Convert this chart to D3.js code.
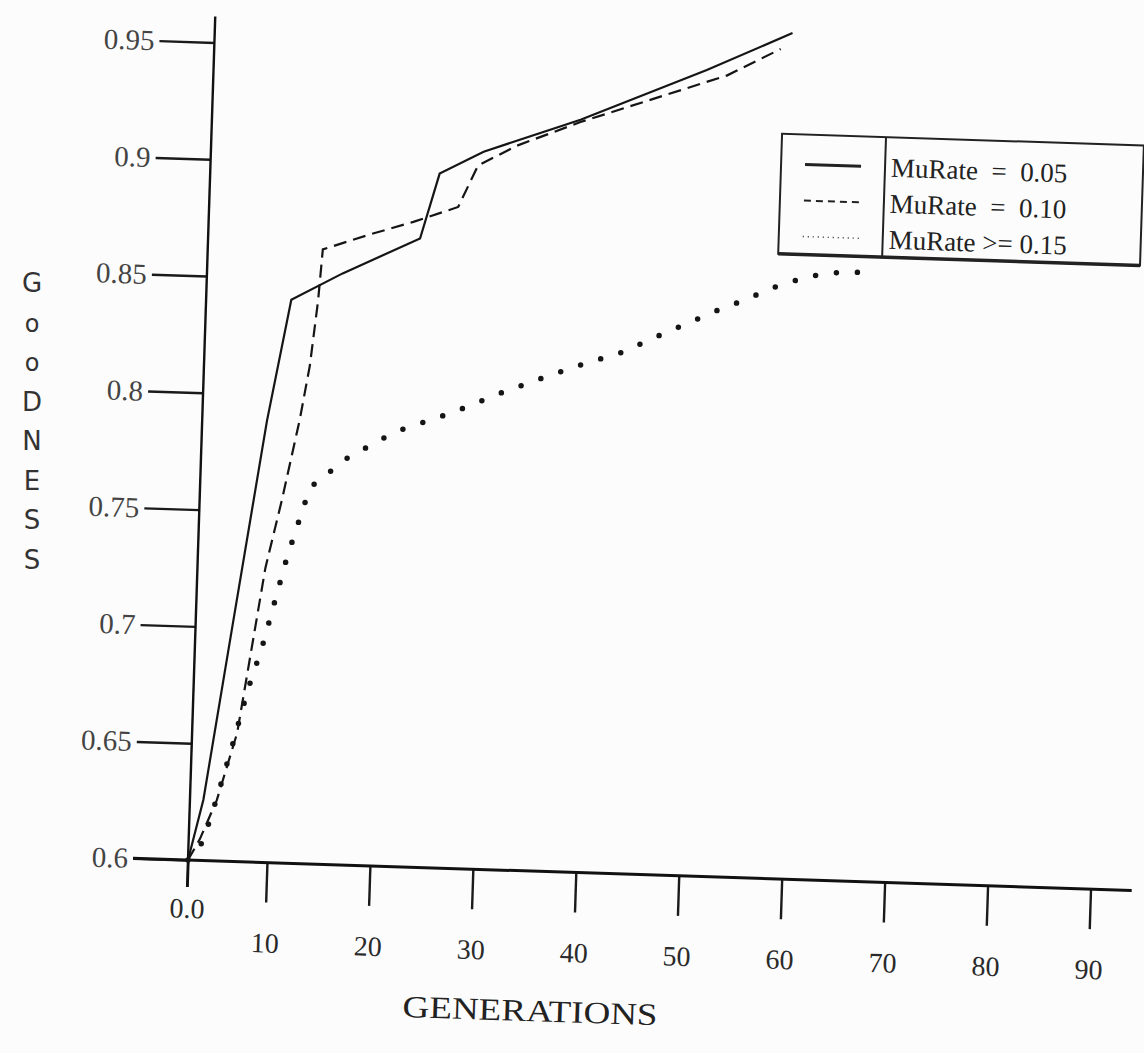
<!DOCTYPE html>
<html>
<head>
<meta charset="utf-8">
<script src="https://cdn.jsdelivr.net/npm/d3@7"></script>
<style>
  body { margin: 0; background: #fcfcfc; }
  svg { display: block; }
  .tick text { font-family: "Liberation Serif", serif; }
  .tick line { stroke: #1a1a1a; stroke-width: 2.4; }
</style>
</head>
<body>
<div id="chart-area"></div>
<script>
// values
const solidGen  = [0, 1.7, 4.6, 8.2, 10.6, 15.5, 22.9, 24.6, 28.8, 38.1, 50.2, 58.4]
const solidGood = [0.6, 0.626, 0.699, 0.789, 0.841, 0.853, 0.869, 0.897, 0.907, 0.922, 0.945, 0.962]

const dashGen  = [0, 1.4, 3.4, 5.7, 8.6, 10.3, 11.8, 12.6, 13.2, 13.5, 18.0, 22.2, 26.5, 28.3, 32.0, 38.1, 52.2, 57.3]
const dashGood = [0.6, 0.609, 0.626, 0.655, 0.726, 0.755, 0.790, 0.813, 0.841, 0.863, 0.870, 0.876, 0.883, 0.901, 0.910, 0.921, 0.943, 0.955]

const dotGen  = [0, 1.8, 3.4, 5.1, 6.9, 8.5, 11.0, 13.0, 16.5, 21.1, 26.6, 31.2, 35.2, 38.8, 42.8, 46.5, 51.8, 54.5, 57.4, 60.6, 63.0, 67.3]
const dotGood = [0.6, 0.608, 0.627, 0.649, 0.674, 0.692, 0.731, 0.761, 0.774, 0.786, 0.795, 0.804, 0.811, 0.817, 0.823, 0.831, 0.842, 0.847, 0.853, 0.858, 0.860, 0.861]

const seriesNames = ['MuRate  =  0.05', 'MuRate  =  0.10', 'MuRate >= 0.15']

const xTicks = [0, 10, 20, 30, 40, 50, 60, 70, 80, 90]
const xTickLabels = ['0.0', '10', '20', '30', '40', '50', '60', '70', '80', '90']
const yTicks = [0.6, 0.65, 0.7, 0.75, 0.8, 0.85, 0.9, 0.95]
const yTickLabels = ['0.6', '0.65', '0.7', '0.75', '0.8', '0.85', '0.9', '0.95']
const yTitle = ['G', 'o', 'o', 'D', 'N', 'E', 'S', 'S']

const W = 1144, H = 1053
const ORIGIN = {X: 188, Y: 860}
const TILT = 1.85   // the scan is slightly turned
const PLOT_W = 903, PLOT_H = 818

const svg = d3.select('#chart-area')
  .append('svg')
  .attr('width', W)
  .attr('height', H)

svg.append('rect').attr('width', W).attr('height', H).attr('fill', '#fcfcfc')

const g = svg.append('g')
  .attr('transform', `translate(${ORIGIN.X},${ORIGIN.Y}) rotate(${TILT})`)

// hand drawn axis: the first division is shorter than the others
const x = d3.scaleLinear()
  .domain([0, 10, 90])
  .range([0, 79, PLOT_W])

const y = d3.scaleLinear()
  .domain([0.6, 0.95])
  .range([0, -PLOT_H])

// y axis
const yAxisCall = d3.axisLeft(y)
  .tickValues(yTicks)
  .tickSize(55)
  .tickPadding(5)
  .tickFormat((d, i) => yTickLabels[i])

const yAxis = g.append('g')
  .attr('class', 'y axis')
  .call(yAxisCall)
yAxis.select('.domain').remove()
yAxis.selectAll('text').attr('font-size', 29).attr('fill', '#444')

// x axis
const xAxisCall = d3.axisBottom(x)
  .tickValues(xTicks)
  .tickSize(40)
  .tickPadding(30)
  .tickFormat((d, i) => xTickLabels[i])

const xAxis = g.append('g')
  .attr('class', 'x axis')
  .call(xAxisCall)
xAxis.select('.domain').remove()
xAxis.selectAll('text').attr('font-size', 28).attr('fill', '#2a2a2a')
xAxis.selectAll('.tick').filter(d => d === 0).select('line').attr('y2', 27)
xAxis.selectAll('.tick').filter(d => d === 0).select('text').attr('y', 38)

// axis lines
g.append('line')
  .attr('x1', -55).attr('x2', x(94))
  .attr('y1', y(0.6)).attr('y2', y(0.6))
  .attr('stroke', '#111').attr('stroke-width', 3)

g.append('line')
  .attr('x1', 0).attr('x2', 0)
  .attr('y1', y(0.6) + 27).attr('y2', y(0.95) - 26)
  .attr('stroke', '#111').attr('stroke-width', 2.4)

// axis titles
g.append('text')
  .attr('x', x(36))
  .attr('y', 150)
  .attr('text-anchor', 'middle')
  .attr('font-family', '"Liberation Serif", serif')
  .attr('font-size', 31)
  .attr('fill', '#222')
  .attr('textLength', 255)
  .attr('lengthAdjust', 'spacingAndGlyphs')
  .text('GENERATIONS')

svg.append('g')
  .selectAll('text')
  .data(yTitle)
  .enter().append('text')
  .attr('x', 32)
  .attr('y', (d, i) => 292 + i * 39.5)
  .attr('text-anchor', 'middle')
  .attr('font-family', '"DejaVu Sans", sans-serif')
  .attr('font-size', d => d === 'o' ? 24 : 26)
  .attr('fill', '#333')
  .text(d => d)

// lines
const line = d3.line()
  .x(d => x(d[0]))
  .y(d => y(d[1]))

const series = [
  {gen: solidGen, good: solidGood, dash: null, width: 2.2, cap: 'butt'},
  {gen: dashGen, good: dashGood, dash: '13 7', width: 2.2, cap: 'butt'},
  {gen: dotGen, good: dotGood, dash: '0 21', width: 5.5, cap: 'round'}
]

series.forEach(s => {
  g.append('path')
    .datum(d3.zip(s.gen, s.good))
    .attr('d', line)
    .attr('fill', 'none')
    .attr('stroke', '#151515')
    .attr('stroke-width', s.width)
    .attr('stroke-linecap', s.cap)
    .attr('stroke-dasharray', s.dash)
})

// legend
const legend = g.append('g')
  .attr('transform', `translate(${x(57.7)},${y(0.6) - 745})`)

legend.append('rect')
  .attr('width', 362).attr('height', 120)
  .attr('fill', 'none')
  .attr('stroke', '#222').attr('stroke-width', 2)
legend.append('line')
  .attr('x1', 0).attr('x2', 362).attr('y1', 120).attr('y2', 120)
  .attr('stroke', '#222').attr('stroke-width', 3.5)
legend.append('line')
  .attr('x1', 104).attr('x2', 104).attr('y1', 0).attr('y2', 120)
  .attr('stroke', '#222').attr('stroke-width', 2)

const legendStyles = [
  {dash: null, width: 3},
  {dash: '7 5', width: 2},
  {dash: '1 4', width: 1.4}
]

seriesNames.forEach((name, i) => {
  const row = legend.append('g').attr('transform', `translate(0,${30 + i * 36})`)
  row.append('line')
    .attr('x1', 24).attr('x2', 80)
    .attr('stroke', '#222')
    .attr('stroke-width', legendStyles[i].width)
    .attr('stroke-dasharray', legendStyles[i].dash)
  row.append('text')
    .attr('x', 110)
    .attr('dy', '0.35em')
    .attr('font-family', '"Liberation Serif", serif')
    .attr('font-size', 27)
    .attr('fill', '#222')
    .style('white-space', 'pre')
    .text(name)
})
</script>
</body>
</html>
